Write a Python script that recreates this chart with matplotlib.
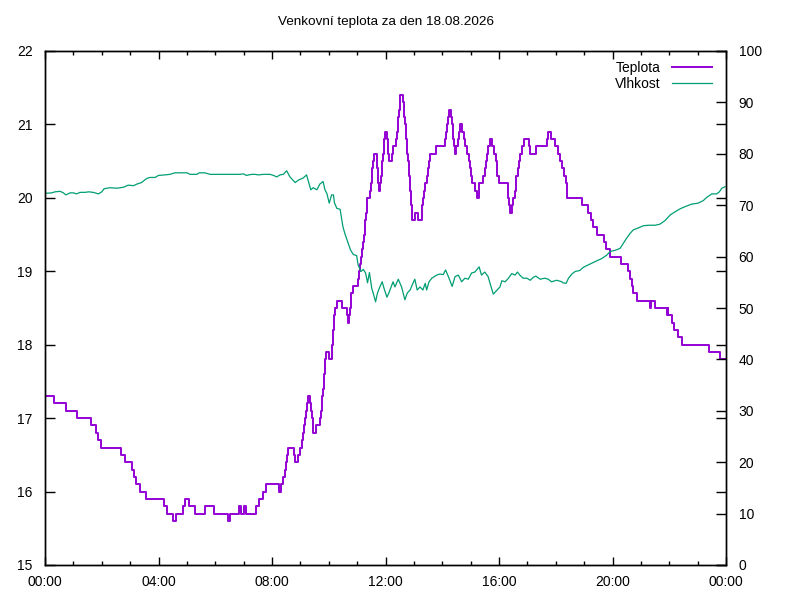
import matplotlib
matplotlib.use('Agg')
import matplotlib.pyplot as plt
from matplotlib.ticker import MultipleLocator, FuncFormatter

# ----------------------------------------------------
# Data (time in minutes since 00:00)
# ----------------------------------------------------
temp_min = [
    0, 19, 44, 67, 97, 108, 113, 118, 160, 170,
    183, 188, 192, 201, 214, 252, 258, 270, 277, 292,
    297, 305, 317, 338, 357, 386, 391, 411, 414, 421,
    426, 446, 452, 460, 468, 495, 500, 503, 507, 510,
    512, 514, 527, 529, 536, 540, 543, 546, 548, 550,
    552, 554, 557, 561, 563, 565, 566, 567, 574, 581,
    584, 585, 586, 588, 589, 591, 592, 593, 594, 601,
    606, 607, 609, 610, 611, 612, 613, 618, 627, 638,
    641, 643, 645, 646, 647, 652, 661, 664, 666, 668,
    670, 672, 674, 676, 677, 679, 680, 681, 688, 689,
    691, 692, 693, 696, 701, 703, 704, 705, 707, 709,
    710, 712, 713, 715, 716, 717, 719, 723, 725, 726,
    727, 734, 736, 742, 744, 746, 747, 748, 750, 751,
    758, 759, 760, 761, 763, 764, 765, 766, 767, 769,
    770, 771, 772, 773, 774, 775, 776, 782, 788, 797,
    799, 801, 803, 807, 809, 812, 815, 827, 846, 848,
    849, 852, 855, 858, 860, 862, 863, 864, 866, 869,
    873, 875, 878, 882, 885, 888, 892, 896, 898, 900,
    902, 909, 913, 918, 927, 930, 932, 934, 937, 942,
    946, 949, 954, 955, 956, 960, 978, 980, 981, 983,
    987, 990, 994, 995, 997, 1001, 1003, 1004, 1008, 1013,
    1023, 1026, 1038, 1061, 1064, 1070, 1078, 1084, 1089, 1094,
    1097, 1101, 1103, 1104, 1135, 1149, 1154, 1159, 1168, 1181,
    1186, 1195, 1219, 1233, 1237, 1241, 1244, 1251, 1279, 1281,
    1290, 1315, 1317, 1318, 1325, 1330, 1339, 1347, 1403, 1427,
    1440,
]
teplota = [
    17.3, 17.2, 17.1, 17.0, 16.9, 16.8, 16.7, 16.6, 16.5, 16.4,
    16.3, 16.2, 16.1, 16.0, 15.9, 15.8, 15.7, 15.6, 15.7, 15.8,
    15.9, 15.8, 15.7, 15.8, 15.7, 15.6, 15.7, 15.8, 15.7, 15.8,
    15.7, 15.8, 15.9, 16.0, 16.1, 16.0, 16.1, 16.2, 16.3, 16.4,
    16.5, 16.6, 16.5, 16.4, 16.5, 16.6, 16.7, 16.8, 16.9, 17.0,
    17.1, 17.2, 17.3, 17.2, 17.1, 17.0, 16.9, 16.8, 16.9, 17.0,
    17.1, 17.2, 17.3, 17.4, 17.5, 17.6, 17.7, 17.8, 17.9, 17.8,
    17.9, 18.0, 18.1, 18.2, 18.3, 18.4, 18.5, 18.6, 18.5, 18.4,
    18.3, 18.4, 18.5, 18.6, 18.7, 18.8, 18.9, 19.0, 19.1, 19.2,
    19.3, 19.4, 19.5, 19.6, 19.7, 19.8, 19.9, 20.0, 20.1, 20.2,
    20.3, 20.4, 20.5, 20.6, 20.5, 20.4, 20.3, 20.2, 20.1, 20.2,
    20.3, 20.4, 20.5, 20.6, 20.7, 20.8, 20.9, 20.8, 20.7, 20.6,
    20.5, 20.6, 20.7, 20.8, 20.9, 21.0, 21.1, 21.2, 21.3, 21.4,
    21.3, 21.2, 21.1, 21.0, 20.9, 20.8, 20.7, 20.6, 20.5, 20.4,
    20.3, 20.2, 20.1, 20.0, 19.9, 19.8, 19.7, 19.8, 19.7, 19.9,
    20.0, 20.1, 20.2, 20.3, 20.4, 20.5, 20.6, 20.7, 20.8, 20.9,
    21.0, 21.1, 21.2, 21.1, 21.0, 20.9, 20.8, 20.7, 20.6, 20.7,
    20.8, 20.9, 21.0, 20.9, 20.8, 20.7, 20.6, 20.5, 20.4, 20.3,
    20.2, 20.1, 20.0, 20.2, 20.3, 20.4, 20.5, 20.6, 20.7, 20.8,
    20.7, 20.6, 20.5, 20.4, 20.3, 20.2, 20.1, 20.0, 19.9, 19.8,
    19.9, 20.0, 20.1, 20.2, 20.3, 20.4, 20.5, 20.6, 20.7, 20.8,
    20.7, 20.6, 20.7, 20.8, 20.9, 20.8, 20.7, 20.6, 20.5, 20.4,
    20.3, 20.2, 20.1, 20.0, 19.9, 19.8, 19.7, 19.6, 19.5, 19.4,
    19.3, 19.2, 19.1, 19.0, 18.9, 18.8, 18.7, 18.6, 18.5, 18.6,
    18.5, 18.4, 18.5, 18.4, 18.3, 18.2, 18.1, 18.0, 17.9, 17.8,
    17.8,
]

vlhkost_min = [
    0, 14, 21, 32, 39, 44, 53, 60, 67, 74,
    85, 92, 102, 113, 120, 125, 137, 152, 166, 176,
    187, 194, 204, 215, 222, 233, 240, 254, 264, 275,
    285, 300, 307, 321, 326, 338, 349, 391, 412, 419,
    426, 437, 444, 451, 462, 476, 483, 490, 497, 504,
    511, 518, 529, 536, 546, 553, 557, 562, 567, 575,
    581, 588, 592, 596, 601, 606, 610, 612, 617, 624,
    630, 634, 641, 646, 652, 659, 662, 668, 673, 678,
    682, 686, 691, 694, 699, 703, 708, 713, 717, 723,
    727, 732, 736, 740, 747, 754, 761, 766, 772, 778,
    782, 787, 793, 799, 804, 807, 812, 818, 823, 828,
    835, 842, 847, 853, 861, 867, 874, 881, 888, 895,
    902, 909, 918, 923, 930, 937, 942, 948, 955, 962,
    966, 973, 980, 987, 994, 999, 1004, 1011, 1019, 1026,
    1033, 1038, 1047, 1057, 1064, 1071, 1082, 1093, 1095, 1102,
    1107, 1114, 1121, 1131, 1138, 1149, 1156, 1167, 1177, 1188,
    1195, 1205, 1216, 1223, 1230, 1237, 1244, 1255, 1265, 1276,
    1290, 1300, 1311, 1322, 1332, 1343, 1353, 1367, 1381, 1392,
    1399, 1410, 1420, 1426, 1431, 1438,
]
vlhkost = [
    72.3, 72.4, 72.6, 72.7, 72.4, 72.0, 72.4, 72.4, 72.2, 72.5,
    72.5, 72.6, 72.5, 72.2, 72.6, 73.2, 73.4, 73.3, 73.5, 73.9,
    73.8, 74.1, 74.4, 75.2, 75.4, 75.4, 75.8, 75.9, 76.0, 76.3,
    76.3, 76.3, 76.0, 76.0, 76.3, 76.3, 76.0, 76.0, 76.0, 76.1,
    75.8, 76.0, 76.0, 75.9, 76.0, 76.0, 75.8, 75.5, 75.9, 76.0,
    76.7, 75.5, 74.4, 74.9, 75.3, 75.9, 74.6, 73.0, 73.4, 73.0,
    74.1, 74.6, 73.0, 72.3, 70.4, 72.0, 72.0, 70.5, 69.4, 69.2,
    65.8, 64.5, 62.6, 61.3, 60.4, 60.2, 58.4, 57.1, 57.5, 56.8,
    54.9, 56.9, 53.8, 52.9, 51.2, 52.9, 54.1, 55.1, 53.8, 52.1,
    52.9, 54.1, 55.1, 54.1, 55.6, 54.1, 51.6, 52.9, 53.5, 54.8,
    55.6, 53.5, 54.1, 53.5, 54.8, 53.5, 55.1, 55.8, 56.1, 56.4,
    56.6, 56.5, 57.4, 56.1, 54.2, 56.1, 56.4, 55.1, 55.8, 55.6,
    56.8, 57.0, 58.0, 56.4, 57.0, 56.1, 54.5, 52.7, 53.4, 54.1,
    55.3, 55.1, 55.8, 56.7, 56.4, 57.0, 56.4, 55.8, 55.8, 55.4,
    56.0, 56.2, 55.6, 55.8, 55.6, 55.1, 55.4, 55.1, 54.9, 54.8,
    55.8, 56.6, 57.1, 57.3, 57.9, 58.4, 58.7, 59.2, 59.6, 60.3,
    61.0, 61.2, 61.6, 62.6, 63.6, 64.5, 65.2, 65.6, 66.0, 66.1,
    66.1, 66.3, 67.0, 68.1, 68.7, 69.3, 69.7, 70.2, 70.4, 70.9,
    71.5, 72.2, 72.2, 72.6, 73.3, 73.6,
]

titulek = 'Venkovní teplota za den 18.08.2026'

# ----------------------------------------------------
# Plot (gnuplot-like look)
# ----------------------------------------------------
plt.rcParams['font.family'] = ['Liberation Sans', 'DejaVu Sans']
plt.rcParams['font.size'] = 10

fig = plt.figure(figsize=(8, 6), dpi=100)
ax = fig.add_axes([45 / 800, 35 / 600, 681 / 800, 514 / 600])
ax2 = ax.twinx()

l1, = ax.plot(temp_min, teplota, drawstyle='steps-post', color='#9400d3', linewidth=1.4, label='Teplota')
l2, = ax2.plot(vlhkost_min, vlhkost, color='#009e73', linewidth=0.9, label='Vlhkost')

ax.set_xlim(0, 1440)
ax.set_ylim(15, 22)
ax2.set_ylim(0, 100)

ax.xaxis.set_major_locator(MultipleLocator(240))
ax.xaxis.set_minor_locator(MultipleLocator(60))
ax.xaxis.set_major_formatter(FuncFormatter(lambda v, p: '%02d:%02d' % (int(v) // 60 % 24, int(v) % 60)))
ax.yaxis.set_major_locator(MultipleLocator(1))
ax2.yaxis.set_major_locator(MultipleLocator(10))

ax.tick_params(axis='x', which='major', direction='in', length=6, width=1, top=True, pad=7)
ax.tick_params(axis='x', which='minor', direction='in', length=3, width=1, top=True)
ax.tick_params(axis='y', direction='in', length=7, width=1, right=True, pad=9)
ax2.tick_params(axis='y', direction='in', length=7, width=1, pad=9)

for a in (ax, ax2):
    for s in a.spines.values():
        s.set_linewidth(1)

fig.text(385.5 / 800, 1 - 22 / 600, titulek, ha='center', va='center', fontsize=9.7)

ax2.legend(handles=[l1, l2], loc='upper right', bbox_to_anchor=(0.9897, 0.9946),
           frameon=False, markerfirst=False,
           handlelength=2.9, handletextpad=0.8, labelspacing=0.15,
           borderaxespad=0.3, borderpad=0.2, fontsize=10)

plt.savefig('out.png', dpi=100)
